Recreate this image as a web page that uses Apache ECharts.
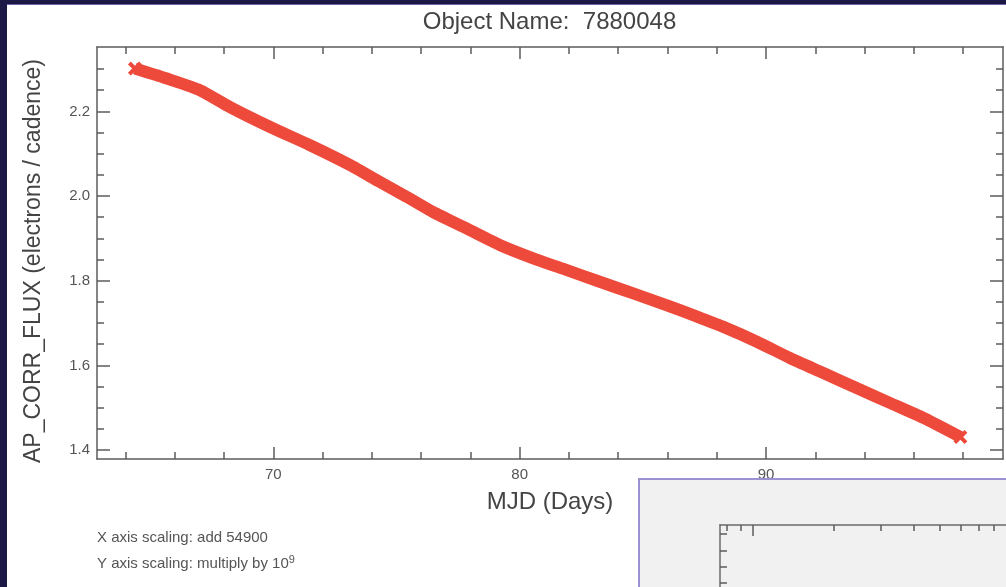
<!DOCTYPE html>
<html>
<head>
<meta charset="utf-8">
<script src="https://cdn.jsdelivr.net/npm/echarts@6/dist/echarts.min.js"></script>
<style>
  html, body { margin: 0; padding: 0; background: #1c1947; overflow: hidden; }
  #sheet { position: absolute; left: 7px; top: 4px; width: 999px; height: 583px; background: #ffffff; border-top: 1px solid #6c63ad; box-sizing: border-box; }
  #chart { position: absolute; left: 0; top: 0; width: 1006px; height: 587px; }
</style>
</head>
<body>
<div id="sheet"></div>
<div id="chart"></div>
<script>
// Light curve: MJD offset (days) and flux (x 1e9 electrons / cadence)
const days = [64.38, 65.80, 67.02, 68.24, 69.87, 71.49, 73.12, 74.33, 75.42, 76.49, 77.86, 79.21, 80.55,
              81.92, 83.28, 84.61, 85.98, 87.20, 88.27, 89.63, 90.99, 92.33, 93.70, 95.05, 96.39, 97.89];
const flux = [2.301, 2.275, 2.250, 2.210, 2.163, 2.120, 2.073, 2.033, 1.998, 1.962, 1.923, 1.884, 1.853,
              1.825, 1.797, 1.770, 1.742, 1.715, 1.691, 1.656, 1.617, 1.582, 1.546, 1.511, 1.476, 1.431];

// Tick positions for the main plot
const xMajorTicks = [70, 80, 90];
const xMinorTicks = [64, 66, 68, 72, 74, 76, 78, 82, 84, 86, 88, 92, 94, 96, 98];
const yMajorTicks = [1.4, 1.6, 1.8, 2.0, 2.2];
const yMinorTicks = [1.45, 1.5, 1.55, 1.65, 1.7, 1.75, 1.85, 1.9, 1.95, 2.05, 2.1, 2.15, 2.25, 2.3];

// Tick positions for the second (log-scaled) plot window
const insetXMajorTicks = [1, 10, 100];
const insetXMinorTicks = [0.8, 0.9, 2, 3, 4, 5, 6, 7, 8, 9, 20, 30, 40];
const insetYTicks = [13, 14, 15, 16, 17];

const FONT = '"Liberation Sans", Arial, Helvetica, sans-serif';
const AXIS_COLOR = '#5c5c5c';
const LABEL_COLOR = '#555555';
const RED = '#ee4a3b';

function axisBase(extra) {
  return Object.assign({
    type: 'value',
    splitLine: { show: false },
    axisLine: { show: false, onZero: false },
    axisTick: { show: false },
    axisLabel: { show: false }
  }, extra);
}

function tickLayer(gridIndex, position, min, max, ticks, len, extra) {
  return axisBase(Object.assign({
    gridIndex: gridIndex,
    position: position,
    min: min,
    max: max,
    axisTick: {
      show: true, inside: true, length: len,
      customValues: ticks,
      lineStyle: { color: AXIS_COLOR, width: 1.5 }
    }
  }, extra || {}));
}

const X_MIN = 62.84, X_MAX = 99.62;
const Y_MIN = 1.379, Y_MAX = 2.352;

// second plot window: log10 scale, ~267 px per decade
const IX_MIN = -0.1236, IX_MAX = 2.1236;
const IY_MIN = -0.85, IY_MAX = 17.55;
const logT = a => a.map(v => Math.log10(v));

const mainLine = { show: true, onZero: false, lineStyle: { color: AXIS_COLOR, width: 1.5 } };
const insetLine = { show: true, onZero: false, lineStyle: { color: '#6a6a6a', width: 1.5 } };

// cross-shaped marker used at both ends of the trace
const xSym = 'path://M0,2L2,0L5,3L8,0L10,2L7,5L10,8L8,10L5,7L2,10L0,8L3,5Z';
const lastIdx = days.length - 1;

const option = {
  backgroundColor: 'transparent',
  animation: false,
  textStyle: { fontFamily: FONT },
  title: [
    {
      text: 'Object Name:  7880048',
      left: 549.5, top: 10, textAlign: 'center', padding: 0,
      textStyle: { fontFamily: FONT, fontSize: 24, fontWeight: 'normal', color: '#444444' }
    },
    {
      text: 'X axis scaling: add 54900',
      left: 97, top: 530, padding: 0,
      textStyle: { fontFamily: FONT, fontSize: 15, fontWeight: 'normal', color: '#555555' }
    },
    {
      text: 'Y axis scaling: multiply by 10{sup|9}',
      left: 97, top: 554, padding: 0,
      textStyle: {
        fontFamily: FONT, fontSize: 15, fontWeight: 'normal', color: '#555555',
        rich: { sup: { fontFamily: FONT, fontSize: 11, color: '#555555', padding: [0, 0, 9, 0] } }
      }
    }
  ],
  grid: [
    { left: 97, top: 47, width: 906, height: 412, outerBoundsMode: 'none', containLabel: false },
    { left: 720, top: 525, width: 600, height: 300, outerBoundsMode: 'none', containLabel: false }
  ],
  xAxis: [
    // main bottom axis with labels and major ticks
    tickLayer(0, 'bottom', X_MIN, X_MAX, xMajorTicks, 12, {
      name: 'MJD (Days)',
      nameLocation: 'middle',
      nameGap: 31,
      nameTextStyle: { fontFamily: FONT, fontSize: 24, color: '#444444' },
      axisLine: mainLine,
      axisLabel: {
        show: true, customValues: xMajorTicks, margin: 8,
        fontFamily: FONT, fontSize: 15, color: LABEL_COLOR,
        formatter: v => String(v)
      }
    }),
    tickLayer(0, 'bottom', X_MIN, X_MAX, xMinorTicks, 7),
    tickLayer(0, 'top', X_MIN, X_MAX, xMajorTicks, 12, { axisLine: mainLine }),
    tickLayer(0, 'top', X_MIN, X_MAX, xMinorTicks, 7),
    // second window, top log axis
    tickLayer(1, 'top', IX_MIN, IX_MAX, logT(insetXMajorTicks), 11, { axisLine: insetLine, z: 101 }),
    tickLayer(1, 'top', IX_MIN, IX_MAX, logT(insetXMinorTicks), 6, { z: 101 })
  ],
  yAxis: [
    tickLayer(0, 'left', Y_MIN, Y_MAX, yMajorTicks, 13, {
      name: 'AP_CORR_FLUX (electrons / cadence)',
      nameLocation: 'middle',
      nameGap: 52,
      nameTextStyle: { fontFamily: FONT, fontSize: 23, color: '#444444', padding: [0, 16, 0, 0] },
      axisLine: mainLine,
      axisLabel: {
        show: true, customValues: yMajorTicks, margin: 7,
        fontFamily: FONT, fontSize: 15, color: LABEL_COLOR,
        formatter: v => v.toFixed(1)
      }
    }),
    tickLayer(0, 'left', Y_MIN, Y_MAX, yMinorTicks, 7),
    tickLayer(0, 'right', Y_MIN, Y_MAX, yMajorTicks, 13, { axisLine: mainLine }),
    tickLayer(0, 'right', Y_MIN, Y_MAX, yMinorTicks, 7),
    tickLayer(1, 'left', IY_MIN, IY_MAX, insetYTicks, 7, { axisLine: insetLine, z: 101 })
  ],
  graphic: [
    {
      type: 'rect', z: 100,
      shape: { x: 639, y: 479, width: 420, height: 160 },
      style: { fill: '#f1f1f1', stroke: '#9a92d0', lineWidth: 2 }
    }
  ],
  series: [
    {
      type: 'line',
      xAxisIndex: 0,
      yAxisIndex: 0,
      data: days.map((d, i) => [d, flux[i]]),
      smooth: 0.2,
      symbol: (val, params) => (params.dataIndex === 0 || params.dataIndex === lastIdx) ? xSym : 'none',
      symbolSize: 14,
      showSymbol: true,
      itemStyle: { color: RED },
      lineStyle: { color: RED, width: 12, cap: 'butt' },
      emphasis: { disabled: true },
      z: 2
    }
  ]
};

const chart = echarts.init(document.getElementById('chart'), null, { renderer: 'canvas' });
chart.setOption(option);
</script>
</body>
</html>
